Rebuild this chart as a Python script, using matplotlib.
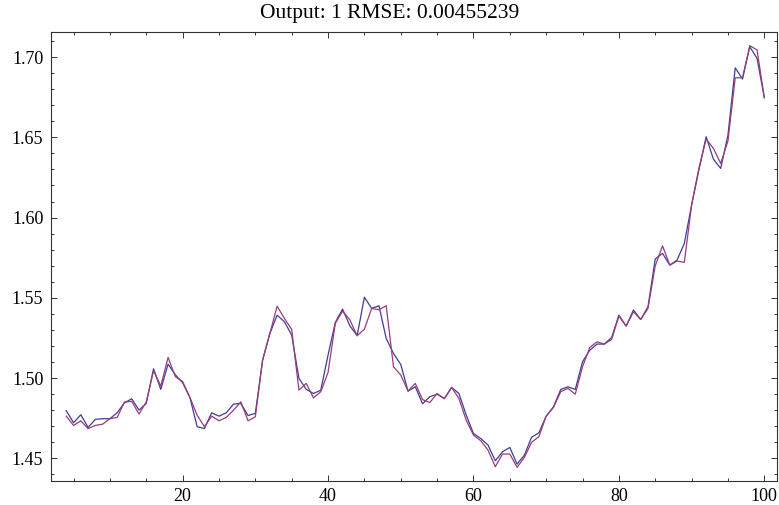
import matplotlib
matplotlib.use("Agg")
import matplotlib.pyplot as plt
from matplotlib.ticker import MultipleLocator, FormatStrFormatter

x = list(range(4, 101))

blue = [1.4797, 1.4722, 1.4772, 1.4693, 1.4743, 1.4747, 1.4747, 1.4784, 1.4846, 1.4871,
        1.4801, 1.4842, 1.5058, 1.4930, 1.5087, 1.5021, 1.4971, 1.4880, 1.4697, 1.4686,
        1.4784, 1.4763, 1.4784, 1.4838, 1.4842, 1.4767, 1.4780, 1.5112, 1.5278, 1.5392,
        1.5351, 1.5268, 1.4998, 1.4930, 1.4904, 1.4925, 1.5143, 1.5347, 1.5430, 1.5326,
        1.5264, 1.5504, 1.5434, 1.5451, 1.5247, 1.5154, 1.5085, 1.4919, 1.4946, 1.4840,
        1.4884, 1.4900, 1.4873, 1.4942, 1.4904, 1.4770, 1.4655, 1.4624, 1.4583, 1.4485,
        1.4541, 1.4568, 1.4464, 1.4520, 1.4632, 1.4659, 1.4763, 1.4821, 1.4929, 1.4946,
        1.4929, 1.5102, 1.5174, 1.5212, 1.5212, 1.5253, 1.5392, 1.5324, 1.5424, 1.5365,
        1.5444, 1.5742, 1.5777, 1.5704, 1.5735, 1.5839, 1.6078, 1.6296, 1.6504, 1.6364,
        1.6306, 1.6514, 1.6933, 1.6863, 1.7064, 1.6992, 1.6747]

red = [1.4763, 1.4705, 1.4734, 1.4685, 1.4705, 1.4713, 1.4747, 1.4755, 1.4851, 1.4855,
       1.4776, 1.4851, 1.5046, 1.4950, 1.5129, 1.5009, 1.4979, 1.4880, 1.4769, 1.4697,
       1.4763, 1.4734, 1.4755, 1.4800, 1.4852, 1.4734, 1.4759, 1.5112, 1.5278, 1.5448,
       1.5372, 1.5303, 1.4925, 1.4967, 1.4877, 1.4915, 1.5035, 1.5341, 1.5417, 1.5363,
       1.5264, 1.5305, 1.5434, 1.5426, 1.5451, 1.5071, 1.5019, 1.4919, 1.4967, 1.4866,
       1.4848, 1.4904, 1.4871, 1.4942, 1.4873, 1.4738, 1.4645, 1.4610, 1.4552, 1.4448,
       1.4527, 1.4527, 1.4444, 1.4506, 1.4600, 1.4636, 1.4763, 1.4817, 1.4915, 1.4936,
       1.4900, 1.5071, 1.5191, 1.5226, 1.5212, 1.5241, 1.5386, 1.5324, 1.5413, 1.5365,
       1.5434, 1.5699, 1.5824, 1.5704, 1.5729, 1.5721, 1.6078, 1.6306, 1.6489, 1.6431,
       1.6337, 1.6477, 1.6871, 1.6871, 1.7071, 1.7044, 1.6747]

title = "Output: 1 RMSE: 0.00455239"

plt.rcParams['font.family'] = ['Liberation Serif', 'DejaVu Serif']

fig = plt.figure(figsize=(7.79, 5.05), dpi=100)
ax = fig.add_axes([51 / 779, 1 - 481 / 505, (777.4 - 51) / 779, (481 - 32) / 505])

ax.plot(x, blue, color='#3d3d99', lw=0.9)
ax.plot(x, red, color='#993d74', lw=0.9)

ax.set_xlim(1.9, 101.8)
ax.set_ylim(1.4359, 1.7156)

ax.xaxis.set_major_locator(MultipleLocator(20))
ax.xaxis.set_minor_locator(MultipleLocator(5))
ax.yaxis.set_major_locator(MultipleLocator(0.05))
ax.yaxis.set_minor_locator(MultipleLocator(0.01))
ax.yaxis.set_major_formatter(FormatStrFormatter('%.2f'))

ax.tick_params(which='both', direction='in', top=True, right=True, labelsize=13,
               color='#333333', width=0.7)
ax.tick_params(axis='y', pad=5.5)
ax.tick_params(axis='x', pad=5)
ax.tick_params(which='major', length=4.5)
ax.tick_params(which='minor', length=2.5)
for s in ax.spines.values():
    s.set_linewidth(0.8)
    s.set_color('#333333')

fig.text(0.5, 1 - 18 / 505, title, fontsize=15.5, ha='center', va='baseline')

fig.savefig('out.png', dpi=100)
